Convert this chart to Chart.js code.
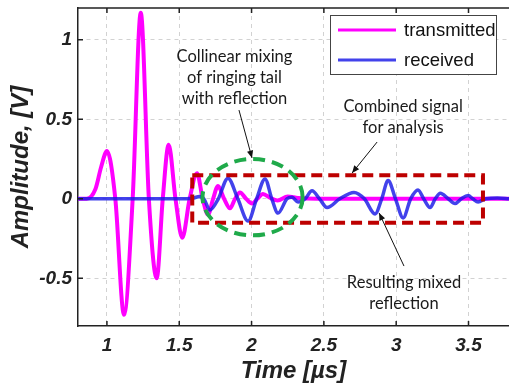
<!DOCTYPE html>
<html>
<head>
<meta charset="utf-8">
<script src="https://cdn.jsdelivr.net/npm/chart.js@4.4.0/dist/chart.umd.min.js"></script>
<style>
  html, body { margin: 0; padding: 0; background: #fff; overflow: hidden; }
  #wrap { width: 509px; height: 387px; position: relative; }
</style>
</head>
<body>
<div id="wrap"><canvas id="myChart"></canvas></div>
<script>
// transmitted pulse, time [us] / amplitude [V]
var txTime = [0.8, 0.86, 0.92, 0.96, 1.0, 1.058, 1.118, 1.178, 1.234, 1.29, 1.344, 1.386, 1.427, 1.474, 1.521,
              1.572, 1.623, 1.662, 1.699, 1.734, 1.768, 1.81, 1.851, 1.886, 1.92, 1.962, 2.003, 2.04, 2.079,
              2.13, 2.18, 2.25, 2.32, 2.45, 3.78];
var txAmp  = [0, 0, 0.06, 0.2, 0.3, 0, -0.73, 0, 1.17, 0, -0.5, 0, 0.34, 0, -0.245,
              0, 0.16, 0, -0.1, 0, 0.08, 0, -0.06, 0, 0.04, 0, -0.03, 0, 0.03,
              0.005, -0.01, 0.015, 0.005, 0, 0];

// received signal
var rxTime = [0.8, 1.55, 1.6, 1.64, 1.67, 1.713, 1.77, 1.837, 1.905, 1.976, 2.035, 2.093, 2.14, 2.183,
              2.245, 2.28, 2.321, 2.37, 2.418, 2.47, 2.522, 2.61, 2.708, 2.78, 2.854, 2.9, 2.944, 2.995,
              3.048, 3.1, 3.151, 3.19, 3.234, 3.27, 3.305, 3.36, 3.407, 3.45, 3.497, 3.53, 3.566, 3.62,
              3.7, 3.78];
var rxAmp  = [0, 0, 0.005, 0.015, 0, -0.07, 0, 0.13, 0, -0.14, 0, 0.125, 0, -0.09,
              0, 0.01, -0.02, 0, 0.05, 0, -0.055, 0, 0.04, 0, -0.095, 0, 0.115, 0,
              -0.12, 0, 0.055, 0, -0.055, 0, 0.035, 0, -0.03, 0, 0.02, 0, -0.02, 0,
              0.005, 0];

var xTicks = [1, 1.5, 2, 2.5, 3, 3.5];
var yTicks = [-0.5, 0, 0.5, 1];

// annotation geometry in axis units
var boxArea = { x0: 1.59, x1: 3.6, y0: -0.15, y1: 0.148 };
var mixEllipse = { cx: 2.007, cy: 0.01, rx: 0.346, ry: 0.24 };
var notes = [
  { lines: ['Collinear mixing', 'of ringing tail', 'with reflection'], x: 1.882, y: 0.892,
    arrow: [1.913, 0.558, 2.003, 0.257] },
  { lines: ['Combined signal', 'for analysis'], x: 3.048, y: 0.577,
    arrow: [2.868, 0.357, 2.695, 0.162] },
  { lines: ['Resulting mixed', 'reflection'], x: 3.054, y: -0.53,
    arrow: [3.054, -0.423, 2.882, -0.089] }
];

function pts(xs, ys) {
  return xs.map(function (x, i) { return { x: x, y: ys[i] }; });
}

var axisFont = { family: "'Liberation Sans', Arial, sans-serif", size: 19, weight: 'bold', style: 'italic' };
var titleFont = { family: "'Liberation Sans', Arial, sans-serif", size: 24, weight: 'bold', style: 'italic' };

var extras = {
  id: 'extras',
  afterDatasetsDraw: function (chart) {
    var ctx = chart.ctx, xs = chart.scales.x, ys = chart.scales.y, a = chart.chartArea;
    var px = function (v) { return xs.getPixelForValue(v); };
    var py = function (v) { return ys.getPixelForValue(v); };

    ctx.save();
    // top frame line + inward ticks
    ctx.strokeStyle = '#222';
    ctx.lineWidth = 1.5;
    ctx.beginPath();
    ctx.moveTo(a.left, a.top); ctx.lineTo(a.right, a.top);
    xTicks.forEach(function (t) {
      ctx.moveTo(px(t), a.bottom); ctx.lineTo(px(t), a.bottom - 5);
      ctx.moveTo(px(t), a.top); ctx.lineTo(px(t), a.top + 5);
    });
    yTicks.forEach(function (t) {
      ctx.moveTo(a.left, py(t)); ctx.lineTo(a.left + 5, py(t));
    });
    ctx.stroke();

    // red dashed box
    ctx.strokeStyle = '#bd0000';
    ctx.lineWidth = 4;
    ctx.setLineDash([11, 6]);
    ctx.strokeRect(px(boxArea.x0), py(boxArea.y1), px(boxArea.x1) - px(boxArea.x0), py(boxArea.y0) - py(boxArea.y1));

    // green dashed ellipse
    ctx.strokeStyle = '#1faa4a';
    ctx.setLineDash([12, 7]);
    ctx.beginPath();
    ctx.ellipse(px(mixEllipse.cx), py(mixEllipse.cy),
      px(mixEllipse.cx + mixEllipse.rx) - px(mixEllipse.cx),
      py(mixEllipse.cy) - py(mixEllipse.cy + mixEllipse.ry), 0, 0, Math.PI * 2);
    ctx.stroke();
    ctx.setLineDash([]);

    // notes with arrows
    ctx.font = "16.5px Lato, 'Open Sans', sans-serif";
    ctx.fillStyle = '#1a1a1a';
    ctx.textAlign = 'center';
    ctx.textBaseline = 'middle';
    notes.forEach(function (n) {
      n.lines.forEach(function (s, i) {
        ctx.fillText(s, px(n.x), py(n.y) + i * 21);
      });
      var x0 = px(n.arrow[0]), y0 = py(n.arrow[1]), x1 = px(n.arrow[2]), y1 = py(n.arrow[3]);
      var ang = Math.atan2(y1 - y0, x1 - x0);
      ctx.strokeStyle = '#111';
      ctx.lineWidth = 1;
      ctx.beginPath();
      ctx.moveTo(x0, y0); ctx.lineTo(x1, y1);
      ctx.stroke();
      ctx.beginPath();
      ctx.moveTo(x1, y1);
      ctx.lineTo(x1 - 8 * Math.cos(ang - 0.4), y1 - 8 * Math.sin(ang - 0.4));
      ctx.lineTo(x1 - 8 * Math.cos(ang + 0.4), y1 - 8 * Math.sin(ang + 0.4));
      ctx.closePath();
      ctx.fillStyle = '#111';
      ctx.fill();
      ctx.fillStyle = '#1a1a1a';
    });

    // legend
    ctx.fillStyle = '#fff';
    ctx.fillRect(330.5, 15.5, 166, 59);
    ctx.strokeStyle = '#444';
    ctx.lineWidth = 1;
    ctx.strokeRect(330.5, 15.5, 166, 59);
    ctx.font = "18.5px 'Liberation Sans', Arial, sans-serif";
    ctx.textAlign = 'left';
    var legendOrder = [1, 0];
    legendOrder.forEach(function (di, i) {
      var ds = chart.data.datasets[di];
      var y = 30 + i * 30;
      ctx.strokeStyle = ds.borderColor;
      ctx.lineWidth = 3;
      ctx.beginPath();
      ctx.moveTo(338, y); ctx.lineTo(396, y);
      ctx.stroke();
      ctx.fillStyle = '#111';
      ctx.fillText(ds.label, 404, y + 1);
    });
    ctx.restore();
  }
};

var myChart = document.getElementById('myChart').getContext('2d');

var chart = new Chart(myChart, {
  type: 'line',
  data: {
    datasets: [{
      label: 'received',
      data: pts(rxTime, rxAmp),
      borderColor: 'rgba(25,25,230,0.82)',
      borderWidth: 3.5,
      order: 0
    }, {
      label: 'transmitted',
      data: pts(txTime, txAmp),
      borderColor: '#ff00ff',
      borderWidth: 4,
      order: 1
    }]
  },
  options: {
    responsive: true,
    maintainAspectRatio: false,
    animation: false,
    parsing: false,
    layout: { padding: { top: 8, right: 0, left: 0, bottom: 0 } },
    elements: {
      point: { radius: 0 },
      line: { cubicInterpolationMode: 'monotone', fill: false }
    },
    plugins: {
      legend: { display: false },
      tooltip: { enabled: false }
    },
    scales: {
      x: {
        type: 'linear',
        min: 0.8,
        max: 3.78,
        afterBuildTicks: function (s) { s.ticks = xTicks.map(function (v) { return { value: v }; }); },
        afterFit: function (s) { s.height = 61; s.paddingLeft = 0; s.paddingRight = 0; },
        ticks: { font: axisFont, color: '#222', padding: 8, callback: function (v) { return String(v); } },
        grid: { color: '#d2d2d2', lineWidth: 1, drawTicks: false },
        border: { display: true, color: '#222', width: 1.5, dash: [4, 4] },
        title: { display: true, text: 'Time [µs]', font: titleFont, color: '#222', padding: { top: 0, bottom: 1 } }
      },
      y: {
        min: -0.8,
        max: 1.2,
        afterBuildTicks: function (s) { s.ticks = yTicks.map(function (v) { return { value: v }; }); },
        afterFit: function (s) { s.width = 78; s.paddingTop = 0; s.paddingBottom = 0; },
        ticks: { font: axisFont, color: '#222', padding: 6, callback: function (v) { return String(v); } },
        grid: { color: '#d2d2d2', lineWidth: 1, drawTicks: false },
        border: { display: true, color: '#222', width: 1.5, dash: [4, 4] },
        title: { display: true, text: 'Amplitude, [V]', font: titleFont, color: '#222', padding: { top: 7, bottom: 0 } }
      }
    }
  },
  plugins: [extras]
});
</script>
</body>
</html>
